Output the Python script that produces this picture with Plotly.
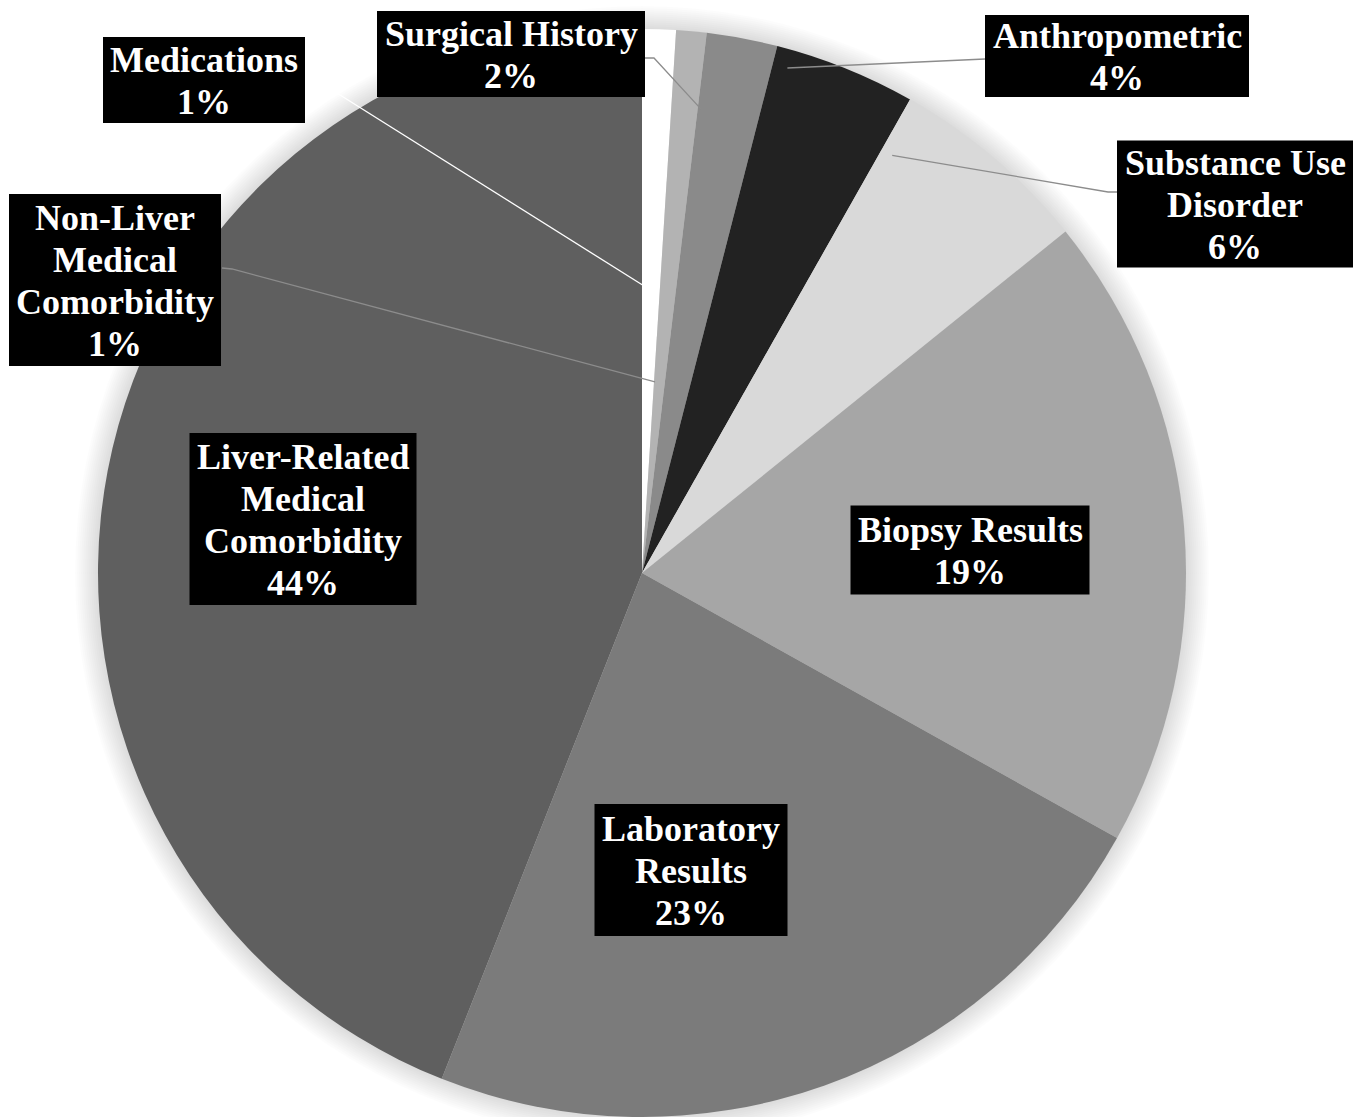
import math
import plotly.graph_objects as go

# ---------------- data ----------------
categories = ["Medications", "Non-Liver Medical Comorbidity", "Surgical History",
              "Anthropometric", "Substance Use Disorder", "Biopsy Results",
              "Laboratory Results", "Liver-Related Medical Comorbidity"]
values = [1.0, 0.9, 2.1, 4.2, 6.0, 18.9, 22.9, 44.0]
label_lines = [["Medications"], ["Non-Liver", "Medical", "Comorbidity"], ["Surgical History"],
               ["Anthropometric"], ["Substance Use", "Disorder"], ["Biopsy Results"],
               ["Laboratory", "Results"], ["Liver-Related", "Medical", "Comorbidity"]]

# ---------------- styling ----------------
colors = ["#ffffff", "#b3b3b3", "#8a8a8a", "#222222", "#d9d9d9", "#a6a6a6", "#7b7b7b", "#5f5f5f"]
W, H = 1366, 1117
CX, CY, R = 642, 573, 544
LINE_H = 41.7
FONT = dict(family="Liberation Serif, Times New Roman, serif", size=36, color="#ffffff", weight="bold")

# label box: centre x, centre y, width, height (pixels)
boxes = [
    (204, 80, 202, 86),
    (115, 280, 212, 172),
    (511, 54, 268, 86),
    (1117, 56, 264, 82),
    (1235, 204, 236, 127),
    (970, 550, 239, 89),
    (691, 870, 193, 132),
    (303, 519, 227, 172),
]
# leader lines: (start px, elbow px, fraction along slice, radius fraction, colour) or None
leaders = [
    ((305, 73), None, 0.5, 0.52, "#ffffff"),
    ((222, 268), (232, 269), 0.09, 0.352, "#8c8c8c"),
    ((645, 58), (654, 58), 0.05, 0.86, "#8c8c8c"),
    ((985, 59), None, 0.11, 0.966, "#8c8c8c"),
    ((1117, 192), (1108, 192), 0.065, 0.895, "#8c8c8c"),
    None, None, None,
]


def px2paper(x, y):
    return x / W, 1 - y / H


fig = go.Figure()
fig.add_trace(go.Pie(
    labels=categories, values=values, sort=False, direction="clockwise", rotation=0,
    marker=dict(colors=colors, line=dict(width=0)),
    textinfo="none", showlegend=False,
    domain=dict(x=[(CX - R) / W, (CX + R) / W], y=[1 - (CY + R) / H, 1 - (CY - R) / H]),
))

shapes = []
# soft shadow behind the pie
for k in range(12):
    rr = R + 1 + k * 2
    x0, y0 = px2paper(CX - rr, CY + rr)
    x1, y1 = px2paper(CX + rr, CY - rr)
    shapes.append(dict(type="circle", xref="paper", yref="paper", x0=x0, y0=y0, x1=x1, y1=y1,
                       fillcolor="rgba(0,0,0,0.012)", line=dict(width=0), layer="below"))

total = sum(values)
cum = 0.0
annotations = []
for i, v in enumerate(values):
    a0 = cum / total * 360
    a1 = (cum + v) / total * 360
    cum += v
    pct = round(v / total * 100)
    bx, by, bw, bh = boxes[i]

    ld = leaders[i]
    if ld is not None:
        start, elbow, frac, rf, col = ld
        th = math.radians(a0 + frac * (a1 - a0))
        ex = CX + rf * R * math.sin(th)
        ey = CY - rf * R * math.cos(th)
        pts = [start] + ([elbow] if elbow else []) + [(ex, ey)]
        path = ""
        for j, (qx, qy) in enumerate(pts):
            ux, uy = px2paper(qx, qy)
            path += ("M" if j == 0 else " L") + f" {ux:.5f},{uy:.5f}"
        shapes.append(dict(type="path", xref="paper", yref="paper", path=path,
                           line=dict(color=col, width=1.3), layer="above"))

    # black label box
    x0, y0 = px2paper(bx - bw / 2, by + bh / 2)
    x1, y1 = px2paper(bx + bw / 2, by - bh / 2)
    shapes.append(dict(type="rect", xref="paper", yref="paper", x0=x0, y0=y0, x1=x1, y1=y1,
                       fillcolor="#000000", line=dict(width=0), layer="above"))

    lines = label_lines[i] + [f"{pct}%"]
    n = len(lines)
    for j, t in enumerate(lines):
        ly = by + (j - (n - 1) / 2) * LINE_H + 1
        px, py = px2paper(bx, ly)
        annotations.append(dict(
            text=t, x=px, y=py, xref="paper", yref="paper",
            xanchor="center", yanchor="middle", showarrow=False,
            borderpad=0, borderwidth=0, font=FONT,
        ))

fig.update_layout(
    width=W, height=H, margin=dict(l=0, r=0, t=0, b=0),
    paper_bgcolor="#ffffff", plot_bgcolor="#ffffff",
    shapes=shapes, annotations=annotations,
)
fig.write_html("out.html")
